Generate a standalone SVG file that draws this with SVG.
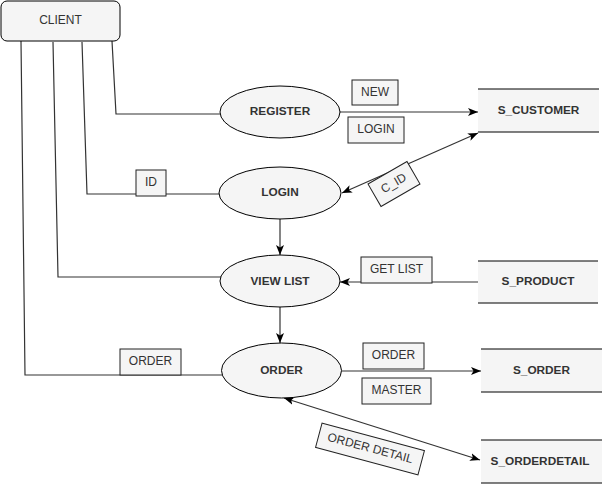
<svg xmlns="http://www.w3.org/2000/svg" width="602" height="484" viewBox="0 0 602 484">
<defs>
<marker id="arr" markerUnits="userSpaceOnUse" markerWidth="10" markerHeight="10" viewBox="0 0 10 10" refX="10" refY="5" orient="auto-start-reverse">
<path d="M0,1 L10,5 L0,9 L2.5,5 z" fill="#000"/>
</marker>
</defs>
<style>
.n{fill:#f5f5f5;stroke:#000;stroke-width:1}
.lbl{fill:#f5f5f5;stroke:#222;stroke-width:1}
.ds{fill:#f5f5f5;stroke:none}
.dsl{stroke:#000;stroke-width:1}
.c{fill:none;stroke:#333;stroke-width:1.2}
.t{font-family:"Liberation Sans",Arial,sans-serif;font-size:12px;fill:#333;text-anchor:middle;dominant-baseline:central}
.b{font-weight:bold;font-size:11.8px}
</style>
<rect width="602" height="484" fill="#fff"/>
<g id="connectors">
<polyline class="c" points="112,41 116,114 220,114"/>
<polyline class="c" points="82,42 87,194 220,194"/>
<polyline class="c" points="53,42 58,277 221,277"/>
<polyline class="c" points="21,41 25,375 222,375"/>
<line class="c" x1="340" y1="112" x2="478" y2="112" marker-end="url(#arr)"/>
<line class="c" x1="342" y1="193" x2="478" y2="133" marker-start="url(#arr)" marker-end="url(#arr)"/>
<line class="c" x1="280" y1="219" x2="280" y2="255" marker-end="url(#arr)"/>
<line class="c" x1="478" y1="282" x2="340" y2="282" marker-end="url(#arr)"/>
<line class="c" x1="280" y1="307" x2="280" y2="343" marker-end="url(#arr)"/>
<line class="c" x1="342" y1="371" x2="481" y2="371" marker-end="url(#arr)"/>
<line class="c" x1="284" y1="398" x2="480" y2="460" marker-start="url(#arr)" marker-end="url(#arr)"/>
</g>
<g id="labels">
<g id="lbl-new"><rect class="lbl" x="352" y="80" width="46" height="25"/><text class="t" x="375" y="91.5">NEW</text></g>
<g id="lbl-login"><rect class="lbl" x="348" y="117" width="56" height="26"/><text class="t" x="376" y="129">LOGIN</text></g>
<g id="lbl-cid" transform="translate(394,184) rotate(-30)"><rect class="lbl" x="-22.5" y="-13" width="45" height="26"/><text class="t" x="0" y="-1">C_ID</text></g>
<g id="lbl-id"><rect class="lbl" x="136" y="170" width="30" height="26"/><text class="t" x="151" y="182">ID</text></g>
<g id="lbl-getlist"><rect class="lbl" x="361" y="257" width="71" height="26"/><text class="t" x="396.5" y="269">GET LIST</text></g>
<g id="lbl-order-c"><rect class="lbl" x="120" y="349" width="61" height="26"/><text class="t" x="150.5" y="361">ORDER</text></g>
<g id="lbl-order"><rect class="lbl" x="363" y="343" width="61" height="26"/><text class="t" x="393.5" y="355">ORDER</text></g>
<g id="lbl-master"><rect class="lbl" x="362" y="378" width="69" height="26"/><text class="t" x="396.5" y="390">MASTER</text></g>
<g id="lbl-orderdetail" transform="translate(370,449) rotate(15)"><rect class="lbl" x="-53" y="-12.5" width="106" height="25"/><text class="t" x="0" y="-1">ORDER DETAIL</text></g>
</g>
<g id="client"><rect class="n" x="1" y="1" width="119" height="40" rx="6"/><text class="t" x="60.5" y="20">CLIENT</text></g>
<g id="register"><ellipse class="n" cx="280" cy="112" rx="60" ry="26"/><text class="t b" x="280" y="111">REGISTER</text></g>
<g id="login"><ellipse class="n" cx="280" cy="193" rx="61" ry="26"/><text class="t b" x="280" y="192">LOGIN</text></g>
<g id="viewlist"><ellipse class="n" cx="280" cy="281" rx="60" ry="26"/><text class="t b" x="280" y="281">VIEW LIST</text></g>
<g id="order"><ellipse class="n" cx="281.5" cy="370.5" rx="60" ry="27.5"/><text class="t b" x="281.5" y="370">ORDER</text></g>
<g id="s_customer"><rect class="ds" x="478" y="89" width="121" height="43"/><line class="dsl" x1="478" y1="89" x2="599" y2="89"/><line class="dsl" x1="478" y1="132" x2="599" y2="132"/><text class="t b" x="538.5" y="110">S_CUSTOMER</text></g>
<g id="s_product"><rect class="ds" x="478" y="261" width="120" height="42"/><line class="dsl" x1="478" y1="261" x2="598" y2="261"/><line class="dsl" x1="478" y1="303" x2="598" y2="303"/><text class="t b" x="538" y="281">S_PRODUCT</text></g>
<g id="s_order"><rect class="ds" x="481" y="349" width="121" height="43"/><line class="dsl" x1="481" y1="349" x2="602" y2="349"/><line class="dsl" x1="481" y1="392" x2="602" y2="392"/><text class="t b" x="541.5" y="369.5">S_ORDER</text></g>
<g id="s_orderdetail"><rect class="ds" x="481" y="440" width="121" height="43"/><line class="dsl" x1="481" y1="440" x2="602" y2="440"/><line class="dsl" x1="481" y1="483" x2="602" y2="483"/><text class="t b" x="540" y="461">S_ORDERDETAIL</text></g>
</svg>
